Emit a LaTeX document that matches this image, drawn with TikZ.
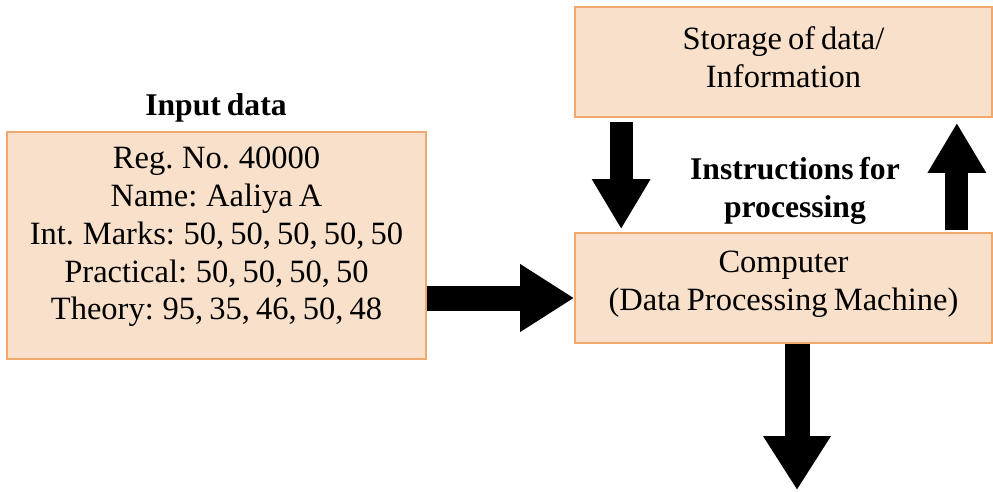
\documentclass[tikz,border=0pt]{standalone}
\usepackage{fontspec}
\setmainfont[WordSpace=0.75]{Liberation Serif}
\usetikzlibrary{arrows.meta, positioning}
\definecolor{boxfill}{RGB}{248, 224, 202}
\definecolor{boxline}{RGB}{240, 168, 108}

\begin{document}
\begin{tikzpicture}[x=0.02cm, y=-0.02cm,
  databox/.style={draw=boxline, line width=1pt, fill=boxfill, inner sep=0pt},
  boxtext/.style={align=center, inner sep=0pt, font=\fontsize{18.5}{21.5}\selectfont},
  heading/.style={font=\fontsize{18}{21.5}\selectfont\bfseries, align=center},
  fatarrow/.style={line width=0.5cm, -{Triangle[length=1.08cm, width=1.28cm]}},
  slimarrow/.style={line width=0.46cm, -{Triangle[length=1cm, width=1.1cm]}}]
  \useasboundingbox (0,0) rectangle (993,491);

  % Boxes
  \node[databox, minimum width=8.38cm, minimum height=4.54cm] (input) at (216.5, 245.5) {};
  \node[boxtext] (inputtext) at (216.5, 237) {Reg. No. 40000\\Name: Aaliya A\\Int. Marks: 50, 50, 50, 50, 50\\Practical: 50, 50, 50, 50\\Theory: 95, 35, 46, 50, 48};
  \node[heading] (inlabel) at (216, 108) {Input data};
  \node[databox, minimum width=8.34cm, minimum height=2.2cm] (storage) at (783.5, 62) {};
  \node[boxtext] (storagetext) at (783.5, 57) {Storage of data/\\Information};
  \node[databox, minimum width=8.34cm, minimum height=2.2cm] (comp) at (783.5, 288) {};
  \node[boxtext] (comptext) at (783.5, 284) {Computer\\(Data Processing Machine)};
  \node[heading] (instr) at (795, 191) {Instructions for\\processing};

  % Arrows
  \coordinate (feed) at ([yshift=-0.2cm]comp.west);
  \draw[fatarrow] (input.east |- feed) -- (feed);
  \draw[slimarrow] ([xshift=0.94cm, yshift=-0.08cm]storage.south west) -- ([xshift=0.94cm, yshift=0.06cm]comp.north west);
  \draw[slimarrow] ([xshift=-0.72cm, yshift=0.04cm]comp.north east) -- ([xshift=-0.72cm, yshift=-0.1cm]storage.south east);
  \coordinate (result) at (797, 490);
  \draw[fatarrow] (comp.south -| result) -- (result);
\end{tikzpicture}
\end{document}
